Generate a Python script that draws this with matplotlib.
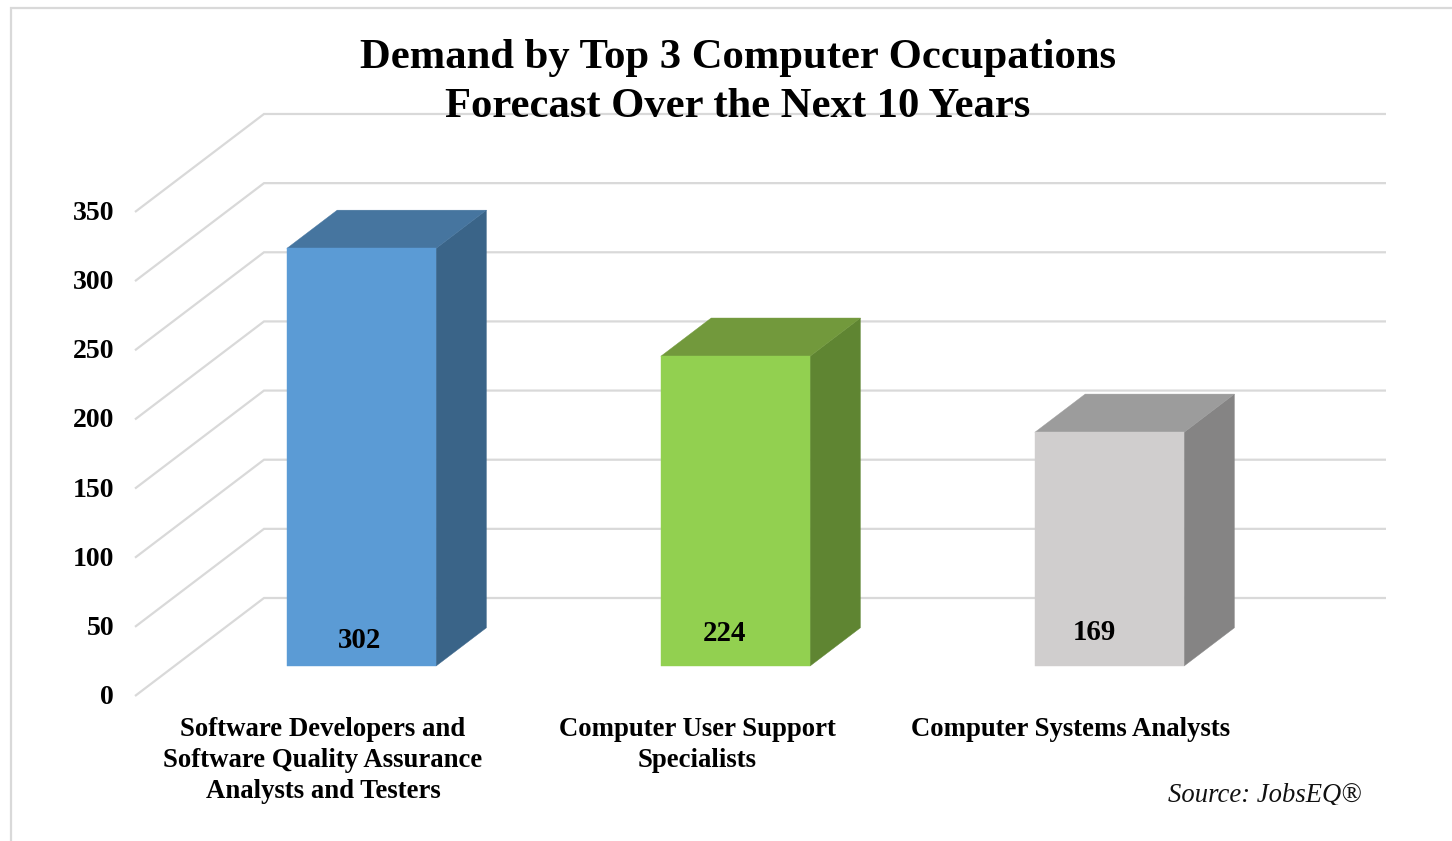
import matplotlib
matplotlib.use("Agg")
import matplotlib.pyplot as plt
from matplotlib.patches import Polygon, Rectangle
from matplotlib.transforms import ScaledTranslation

categories = ["Software Developers and\nSoftware Quality Assurance\nAnalysts and Testers",
              "Computer User Support\nSpecialists",
              "Computer Systems Analysts"]
values = [302, 224, 169]
y_ticks = [0, 50, 100, 150, 200, 250, 300, 350]
title = "Demand by Top 3 Computer Occupations\nForecast Over the Next 10 Years"
source = "Source: JobsEQ\u00ae"
front_colors = ["#5B9BD5", "#92D050", "#D0CECE"]
top_colors = ["#46759F", "#72993C", "#9C9C9C"]
side_colors = ["#3A6488", "#5F8532", "#858484"]
label_offsets_px = [(-2, 26), (-11, 33), (-15, 34)]

W, H = 1452, 841
plt.rcParams["font.family"] = ["Liberation Serif", "DejaVu Serif"]
fig = plt.figure(figsize=(W / 100, H / 100), dpi=100, facecolor="white")

L, R, B, T = 135, 1257, 696, 696 - 350 * 1.3829
ax = fig.add_axes([L / W, 1 - B / H, (R - L) / W, (B - T) / H])
ax.set_xlim(0, 3)
ax.set_ylim(0, 350)
ax.patch.set_visible(False)
for s in ax.spines.values():
    s.set_visible(False)

# oblique projection of depth (0 = front of floor, 1 = back wall), in data units
DX = 129 / ((R - L) / 3)
DY = 98 / 1.3829
def proj(x, y, d):
    return (x + d * DX, y + d * DY)

GRID = "#D9D9D9"
for v in y_ticks:
    pts = [proj(0, v, 0), proj(0, v, 1), proj(3, v, 1)]
    ax.plot([p[0] for p in pts], [p[1] for p in pts], color=GRID, lw=1.6,
            clip_on=False, zorder=1, solid_joinstyle="miter", solid_capstyle="butt")

D0, D1 = 0.306, 0.696
HW = 74.6 / ((R - L) / 3)
for i, v in enumerate(values):
    c = i + 0.5
    xl, xr = c - HW, c + HW
    front = [proj(xl, 0, D0), proj(xr, 0, D0), proj(xr, v, D0), proj(xl, v, D0)]
    top = [proj(xl, v, D0), proj(xr, v, D0), proj(xr, v, D1), proj(xl, v, D1)]
    side = [proj(xr, 0, D0), proj(xr, 0, D1), proj(xr, v, D1), proj(xr, v, D0)]
    for poly, col in ((side, side_colors[i]), (top, top_colors[i]), (front, front_colors[i])):
        ax.add_patch(Polygon(poly, closed=True, facecolor=col, edgecolor=col, lw=0.3,
                             clip_on=False, zorder=3))
    ox, oy = label_offsets_px[i]
    ax.annotate(str(v), xy=proj(c, 0, D0), xytext=(ox * 0.72, oy * 0.72),
                textcoords="offset points", ha="center", va="center",
                fontsize=20.8, fontweight="bold", color="black", zorder=5)

ax.set_yticks(y_ticks)
ax.set_yticklabels([str(v) for v in y_ticks], fontsize=20, fontweight="bold")
ax.tick_params(axis="y", length=0, pad=15)
ax.set_xticks([0.5, 1.5, 2.5])
ax.set_xticklabels(categories, fontsize=19.3, fontweight="bold", linespacing=1.32)
ax.tick_params(axis="x", length=0, pad=14.9)
up = ScaledTranslation(0, 1.5 / 100, fig.dpi_scale_trans)
right = ScaledTranslation(1 / 100, 0, fig.dpi_scale_trans)
for lab in ax.get_yticklabels():
    lab.set_transform(lab.get_transform() + up)
for lab in ax.get_xticklabels():
    lab.set_transform(lab.get_transform() + right)

fig.text(737.5 / W, 1 - 82.5 / H, title, ha="center", va="center", fontsize=30.7,
         fontweight="bold", linespacing=1.36, zorder=6)

src = fig.text(1362 / W, 1 - 796 / H, source, ha="right", va="center", fontsize=19.2,
               style="italic", color="#111111")
src.set_clip_path(Rectangle((1100, H - 805), 300, 40, transform=None))
src.set_clip_on(True)

# outer frame
fig.add_artist(plt.Line2D([10.5 / W, 10.5 / W, 1], [0, 1 - 8 / H, 1 - 8 / H],
                          transform=fig.transFigure, color=GRID, lw=1.6,
                          solid_joinstyle="miter"))

fig.savefig("out.png", dpi=100, facecolor="white")
